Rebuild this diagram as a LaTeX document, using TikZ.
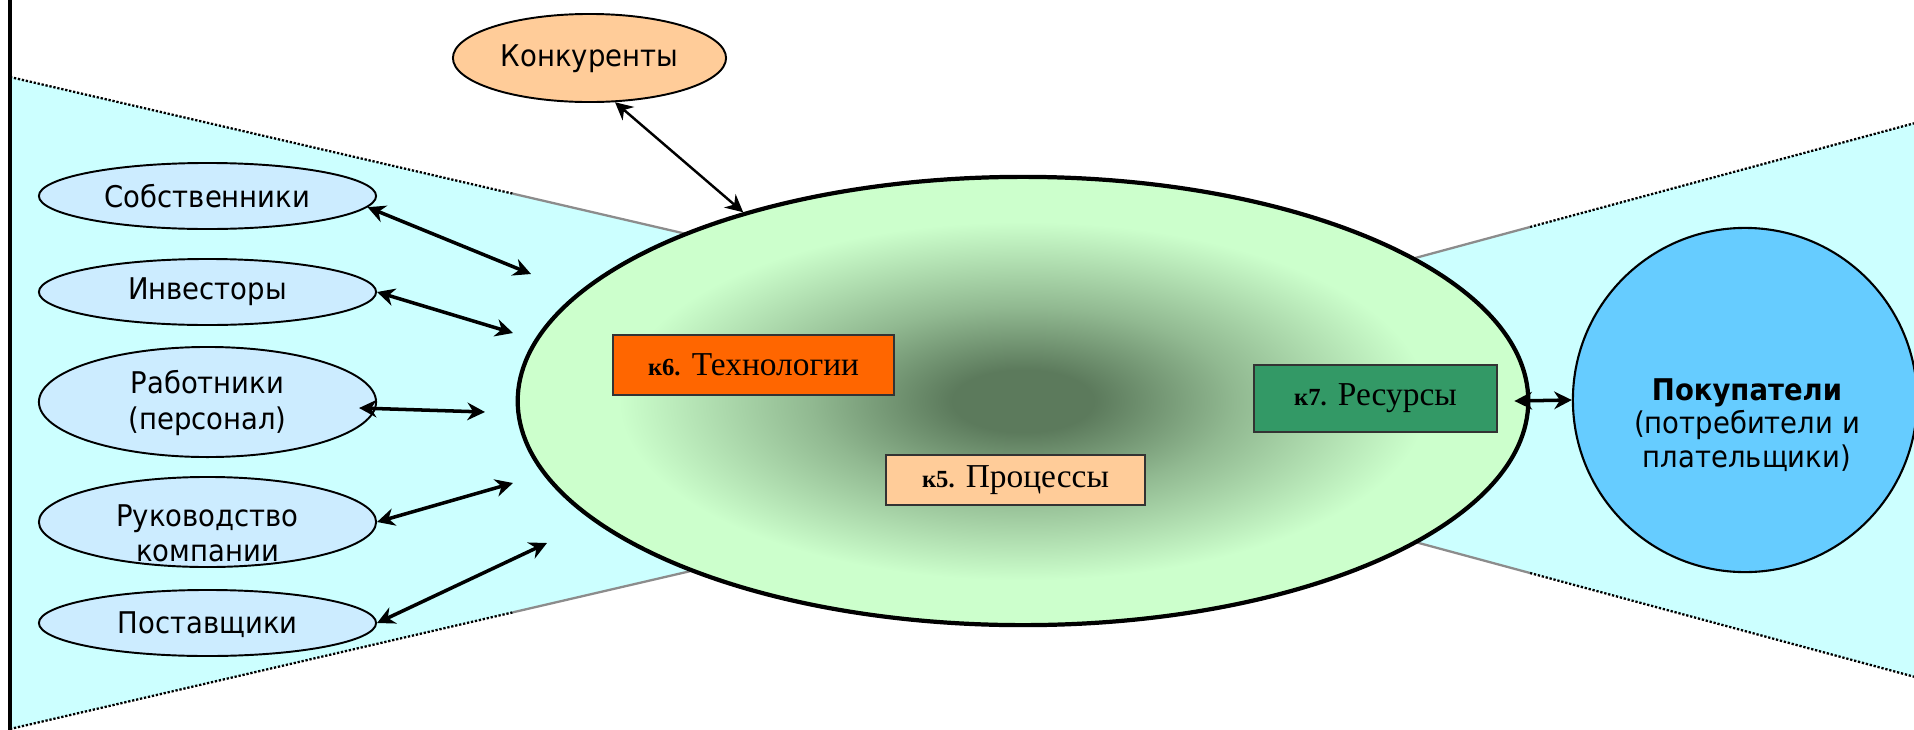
\documentclass[tikz,border=0pt]{standalone}
\usepackage{fontspec}
\setmainfont{DejaVu Sans}[FakeStretch=0.92]
\newfontfamily\tnr{Liberation Serif}
\usetikzlibrary{shapes.geometric,arrows.meta}
\definecolor{cyanbg}{HTML}{CCFFFF}
\definecolor{lblue}{HTML}{CCECFF}
\definecolor{peach}{HTML}{FFCC99}
\definecolor{orng}{HTML}{FF6600}
\definecolor{sgreen}{HTML}{339966}
\definecolor{skyb}{HTML}{66CCFF}
\definecolor{lgr}{HTML}{CCFFCC}
\definecolor{mgr}{RGB}{145,185,145}
\definecolor{dgr}{RGB}{92,122,92}
\pgfdeclareradialshading{eshade}{\pgfpoint{0bp}{0bp}}{color(0bp)=(dgr); color(3.5bp)=(dgr); color(10.5bp)=(mgr); color(20bp)=(lgr); color(50bp)=(lgr)}
\begin{document}
\begin{tikzpicture}[x=0.01cm,y=-0.01cm,
  stake/.style={ellipse, draw, line width=0.55pt, fill=lblue, inner sep=0pt, minimum width=3.37cm},
  txt/.style={inner sep=0pt, align=center, font=\fontsize{8.5}{10}\selectfont},
  kbox/.style={rectangle, draw=black!80, line width=0.6pt, inner sep=0pt, font=\tnr\fontsize{9.5}{11}\selectfont},
  dbl/.style={{Stealth[length=5pt,width=5pt]}-{Stealth[length=5pt,width=5pt]}, line width=1pt},
  dotl/.style={line width=0.65pt, dash pattern=on 0.65pt off 0.5pt},
  fade/.style={line width=0.65pt, black!45}]
\useasboundingbox (0,0) rectangle (1914,730);
% background bow-tie
\fill[cyanbg] (10,77) -- (800,260.3) -- (800,545.7) -- (10,729) -- cycle;
\fill[cyanbg] (1914,123.3) -- (1250,302.6) -- (1250,497.4) -- (1914,676.7) -- cycle;
\draw[dotl] (10,77) -- (513,193.7);
\draw[fade] (513,193.7) -- (690,234.8);
\draw[dotl] (10,729) -- (513,612.3);
\draw[fade] (513,612.3) -- (690,571.2);
\draw[dotl] (1530,227) -- (1914,123.3);
\draw[fade] (1530,227) -- (1400,262.1);
\draw[dotl] (1530,573) -- (1914,676.7);
\draw[fade] (1530,573) -- (1400,537.9);
\draw[line width=1pt] (10,0) -- (10,730);
% central ellipse
\node[ellipse, draw, line width=1.2pt, shade, shading=eshade, minimum width=10.1cm, minimum height=4.48cm, inner sep=0pt] (main) at (1023,401) {};
\node[kbox, fill=orng, minimum width=2.81cm, minimum height=0.60cm] (tech) at (753.5,365) {{\bfseries\fontsize{7}{8}\selectfont к6.} Технологии};
\node[kbox, fill=peach, minimum width=2.59cm, minimum height=0.50cm] (proc) at (1015.5,480) {{\bfseries\fontsize{7}{8}\selectfont к5.} Процессы};
\node[kbox, fill=sgreen, minimum width=2.43cm, minimum height=0.67cm] (res) at (1375.5,398.5) {{\bfseries\fontsize{7}{8}\selectfont к7.} Ресурсы};
% stakeholders
\node[stake, minimum height=0.66cm] (sob) at (207.5,196) {};
\node[txt] (sobt) at (207.5,196) {Собственники};
\node[stake, minimum height=0.66cm] (inv) at (207.5,292) {};
\node[txt] (invt) at (207.5,292) {Инвесторы};
\node[stake, minimum height=1.10cm] (rab) at (207.5,402) {};
\node[txt] (rabt) at (207.5,403) {Работники\\(персонал)};
\node[stake, minimum height=0.90cm] (ruk) at (207.5,522) {};
\node[txt] (rukt) at (207.5,533) {Руководство\\компании};
\node[stake, minimum height=0.66cm] (pos) at (207.5,623) {};
\node[txt] (post) at (207.5,625) {Поставщики};
\node[ellipse, draw, line width=0.55pt, fill=peach, inner sep=0pt, minimum width=2.73cm, minimum height=0.88cm] (kon) at (589.5,58) {};
\node[txt] (kont) at (589.5,59) {Конкуренты};
\node[circle, draw, line width=0.6pt, fill=skyb, minimum size=3.44cm, inner sep=0pt] (cust) at (1745,400) {};
\node[txt, font=\fontsize{8.5}{9.6}\selectfont] (custt) at (1747,425) {{\bfseries Покупатели}\\(потребители и\\плательщики)};
% connectors
\coordinate (sobend) at (531,274);
\coordinate (invend) at (513,333);
\coordinate (rabtip) at ([xshift=-0.18cm,yshift=-0.06cm]rab.east);
\coordinate (rabend) at (485,412);
\coordinate (rukend) at (513,483);
\coordinate (posend) at (547,543);
\coordinate (restip) at ([xshift=-0.16cm]main.east);
\draw[dbl] (sob.-4.7) -- (sobend);
\draw[dbl] (inv.east) -- (invend);
\draw[dbl] (rabtip) -- (rabend);
\draw[dbl] (ruk.east) -- (rukend);
\draw[dbl] (pos.east) -- (posend);
\draw[dbl, line width=0.7pt] (kon.-60) -- (main.146.7);
\draw[dbl] (restip) -- (cust.west);
\end{tikzpicture}
\end{document}
